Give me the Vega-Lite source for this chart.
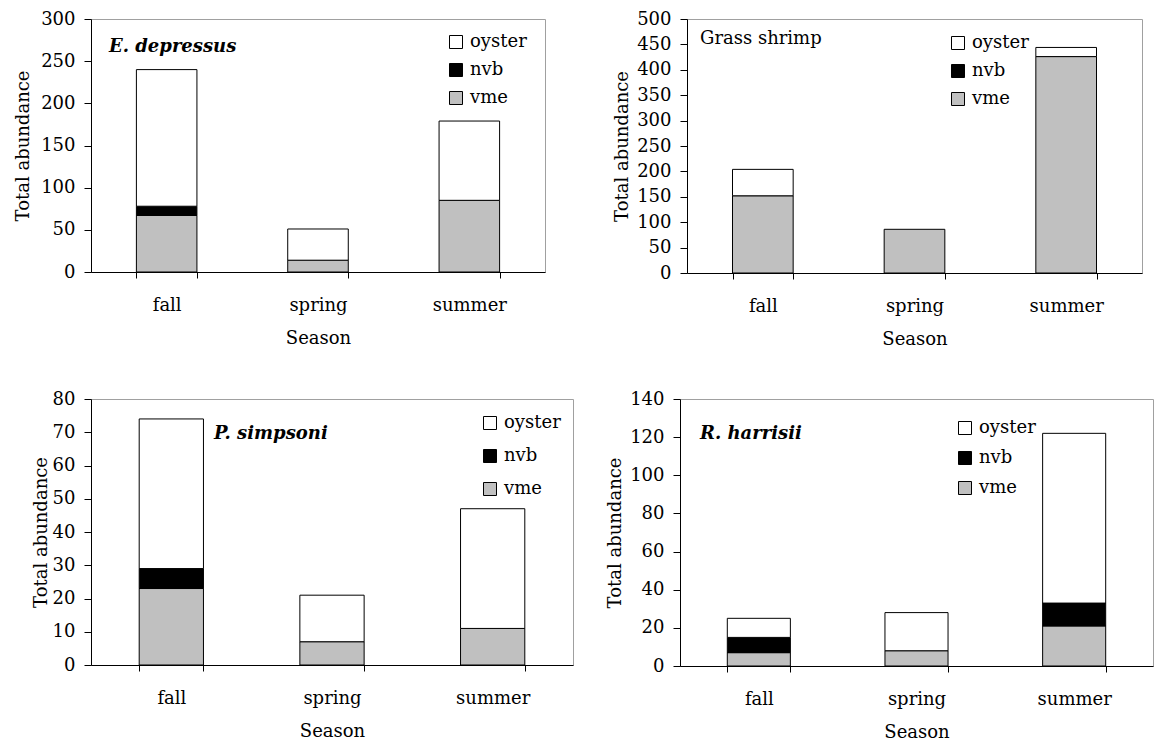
{
  "$schema": "https://vega.github.io/schema/vega-lite/v6.json",
  "background": "white",
  "padding": {"left": 14, "top": 9, "right": 3, "bottom": 3},
  "config": {
    "font": "DejaVu Serif",
    "view": {"stroke": "#a0a0a0", "strokeWidth": 1},
    "axis": {"labelFont": "DejaVu Serif", "titleFont": "DejaVu Serif", "labelFontSize": 18, "titleFontSize": 18, "labelColor": "black", "titleColor": "black", "domainColor": "black", "tickColor": "black", "grid": false, "titleFontWeight": "normal", "domainWidth": 1, "tickWidth": 1, "ticks": true},
    "axisY": {"tickSize": 7, "labelPadding": 9, "titlePadding": 5},
    "axisX": {"tickSize": 6, "labelAngle": 0, "labelPadding": 18, "titlePadding": 15},
    "legend": {"labelFont": "DejaVu Serif", "labelFontSize": 18, "labelColor": "black", "symbolType": "square", "symbolSize": 169, "symbolStrokeColor": "black", "symbolStrokeWidth": 1, "rowPadding": 10, "labelOffset": 5},
    "title": {"font": "DejaVu Serif", "fontSize": 18, "color": "black", "anchor": "start", "baseline": "alphabetic", "frame": "group"}
  },
  "datasets": {
    "d": [
      {"panel": "E. depressus", "season": "fall", "category": "vme", "value": 67},
      {"panel": "E. depressus", "season": "fall", "category": "nvb", "value": 11},
      {"panel": "E. depressus", "season": "fall", "category": "oyster", "value": 162},
      {"panel": "E. depressus", "season": "spring", "category": "vme", "value": 14},
      {"panel": "E. depressus", "season": "spring", "category": "oyster", "value": 37},
      {"panel": "E. depressus", "season": "summer", "category": "vme", "value": 85},
      {"panel": "E. depressus", "season": "summer", "category": "oyster", "value": 94},
      {"panel": "Grass shrimp", "season": "fall", "category": "vme", "value": 152},
      {"panel": "Grass shrimp", "season": "fall", "category": "oyster", "value": 52},
      {"panel": "Grass shrimp", "season": "spring", "category": "vme", "value": 86},
      {"panel": "Grass shrimp", "season": "summer", "category": "vme", "value": 426},
      {"panel": "Grass shrimp", "season": "summer", "category": "oyster", "value": 18},
      {"panel": "P. simpsoni", "season": "fall", "category": "vme", "value": 23},
      {"panel": "P. simpsoni", "season": "fall", "category": "nvb", "value": 6},
      {"panel": "P. simpsoni", "season": "fall", "category": "oyster", "value": 45},
      {"panel": "P. simpsoni", "season": "spring", "category": "vme", "value": 7},
      {"panel": "P. simpsoni", "season": "spring", "category": "oyster", "value": 14},
      {"panel": "P. simpsoni", "season": "summer", "category": "vme", "value": 11},
      {"panel": "P. simpsoni", "season": "summer", "category": "oyster", "value": 36},
      {"panel": "R. harrisii", "season": "fall", "category": "vme", "value": 7},
      {"panel": "R. harrisii", "season": "fall", "category": "nvb", "value": 8},
      {"panel": "R. harrisii", "season": "fall", "category": "oyster", "value": 10},
      {"panel": "R. harrisii", "season": "spring", "category": "vme", "value": 8},
      {"panel": "R. harrisii", "season": "spring", "category": "oyster", "value": 20},
      {"panel": "R. harrisii", "season": "summer", "category": "vme", "value": 21},
      {"panel": "R. harrisii", "season": "summer", "category": "nvb", "value": 12},
      {"panel": "R. harrisii", "season": "summer", "category": "oyster", "value": 89}
    ]
  },
  "spacing": 40,
  "resolve": {"scale": {"fill": "independent"}, "legend": {"fill": "independent"}},
  "vconcat": [
    {
      "spacing": 67,
      "resolve": {"scale": {"fill": "independent"}, "legend": {"fill": "independent"}},
      "hconcat": [
        {
          "width": 454, "height": 253,
          "title": {"text": "E. depressus", "fontStyle": "italic", "fontWeight": "bold", "offset": -46, "dx": 18},
          "data": {"name": "d"},
          "transform": [{"filter": "datum.panel === 'E. depressus'"}, {"calculate": "indexof(['vme','nvb','oyster'], datum.category)", "as": "ord"}],
          "mark": {"type": "bar", "stroke": "black", "strokeWidth": 1},
          "encoding": {
            "x": {"field": "season", "type": "nominal", "scale": {"paddingInner": 0.6, "paddingOuter": 0.3}, "axis": {"title": "Season", "ticks": true, "tickBand": "extent"}},
            "y": {"field": "value", "type": "quantitative", "stack": "zero", "scale": {"domain": [0, 300], "nice": false}, "axis": {"values": [0, 50, 100, 150, 200, 250, 300], "title": "Total abundance", "titlePadding": 8}},
            "fill": {"field": "category", "type": "nominal", "scale": {"domain": ["oyster", "nvb", "vme"], "range": ["white", "black", "#c0c0c0"]}, "legend": {"orient": "none", "legendX": 356, "legendY": 14, "title": null}},
            "order": {"field": "ord", "type": "quantitative"}
          }
        },
        {
          "width": 455, "height": 254,
          "title": {"text": "Grass shrimp", "fontWeight": "normal", "offset": -38, "dx": 13},
          "data": {"name": "d"},
          "transform": [{"filter": "datum.panel === 'Grass shrimp'"}, {"calculate": "indexof(['vme','nvb','oyster'], datum.category)", "as": "ord"}],
          "mark": {"type": "bar", "stroke": "black", "strokeWidth": 1},
          "encoding": {
            "x": {"field": "season", "type": "nominal", "scale": {"paddingInner": 0.6, "paddingOuter": 0.3}, "axis": {"title": "Season", "ticks": true, "tickBand": "extent"}},
            "y": {"field": "value", "type": "quantitative", "stack": "zero", "scale": {"domain": [0, 500], "nice": false}, "axis": {"values": [0, 50, 100, 150, 200, 250, 300, 350, 400, 450, 500], "title": "Total abundance"}},
            "fill": {"field": "category", "type": "nominal", "scale": {"domain": ["oyster", "nvb", "vme"], "range": ["white", "black", "#c0c0c0"]}, "legend": {"orient": "none", "legendX": 262, "legendY": 15, "title": null}},
            "order": {"field": "ord", "type": "quantitative"}
          }
        }
      ]
    },
    {
      "spacing": 32,
      "resolve": {"scale": {"fill": "independent"}, "legend": {"fill": "independent"}},
      "hconcat": [
        {
          "width": 482, "height": 266,
          "title": {"text": "P. simpsoni", "fontStyle": "italic", "fontWeight": "bold", "offset": -53, "dx": 123},
          "data": {"name": "d"},
          "transform": [{"filter": "datum.panel === 'P. simpsoni'"}, {"calculate": "indexof(['vme','nvb','oyster'], datum.category)", "as": "ord"}],
          "mark": {"type": "bar", "stroke": "black", "strokeWidth": 1},
          "encoding": {
            "x": {"field": "season", "type": "nominal", "scale": {"paddingInner": 0.6, "paddingOuter": 0.3}, "axis": {"title": "Season", "ticks": true, "tickBand": "extent"}},
            "y": {"field": "value", "type": "quantitative", "stack": "zero", "scale": {"domain": [0, 80], "nice": false}, "axis": {"values": [0, 10, 20, 30, 40, 50, 60, 70, 80], "title": "Total abundance", "titlePadding": 2}},
            "fill": {"field": "category", "type": "nominal", "scale": {"domain": ["oyster", "nvb", "vme"], "range": ["white", "black", "#c0c0c0"]}, "legend": {"orient": "none", "legendX": 390, "legendY": 15, "rowPadding": 15, "title": null}},
            "order": {"field": "ord", "type": "quantitative"}
          }
        },
        {
          "width": 473, "height": 267,
          "title": {"text": "R. harrisii", "fontStyle": "italic", "fontWeight": "bold", "offset": -53, "dx": 20},
          "data": {"name": "d"},
          "transform": [{"filter": "datum.panel === 'R. harrisii'"}, {"calculate": "indexof(['vme','nvb','oyster'], datum.category)", "as": "ord"}],
          "mark": {"type": "bar", "stroke": "black", "strokeWidth": 1},
          "encoding": {
            "x": {"field": "season", "type": "nominal", "scale": {"paddingInner": 0.6, "paddingOuter": 0.3}, "axis": {"title": "Season", "ticks": true, "tickBand": "extent"}},
            "y": {"field": "value", "type": "quantitative", "stack": "zero", "scale": {"domain": [0, 140], "nice": false}, "axis": {"values": [0, 20, 40, 60, 80, 100, 120, 140], "title": "Total abundance"}},
            "fill": {"field": "category", "type": "nominal", "scale": {"domain": ["oyster", "nvb", "vme"], "range": ["white", "black", "#c0c0c0"]}, "legend": {"orient": "none", "legendX": 276, "legendY": 20, "rowPadding": 12, "title": null}},
            "order": {"field": "ord", "type": "quantitative"}
          }
        }
      ]
    }
  ]
}
